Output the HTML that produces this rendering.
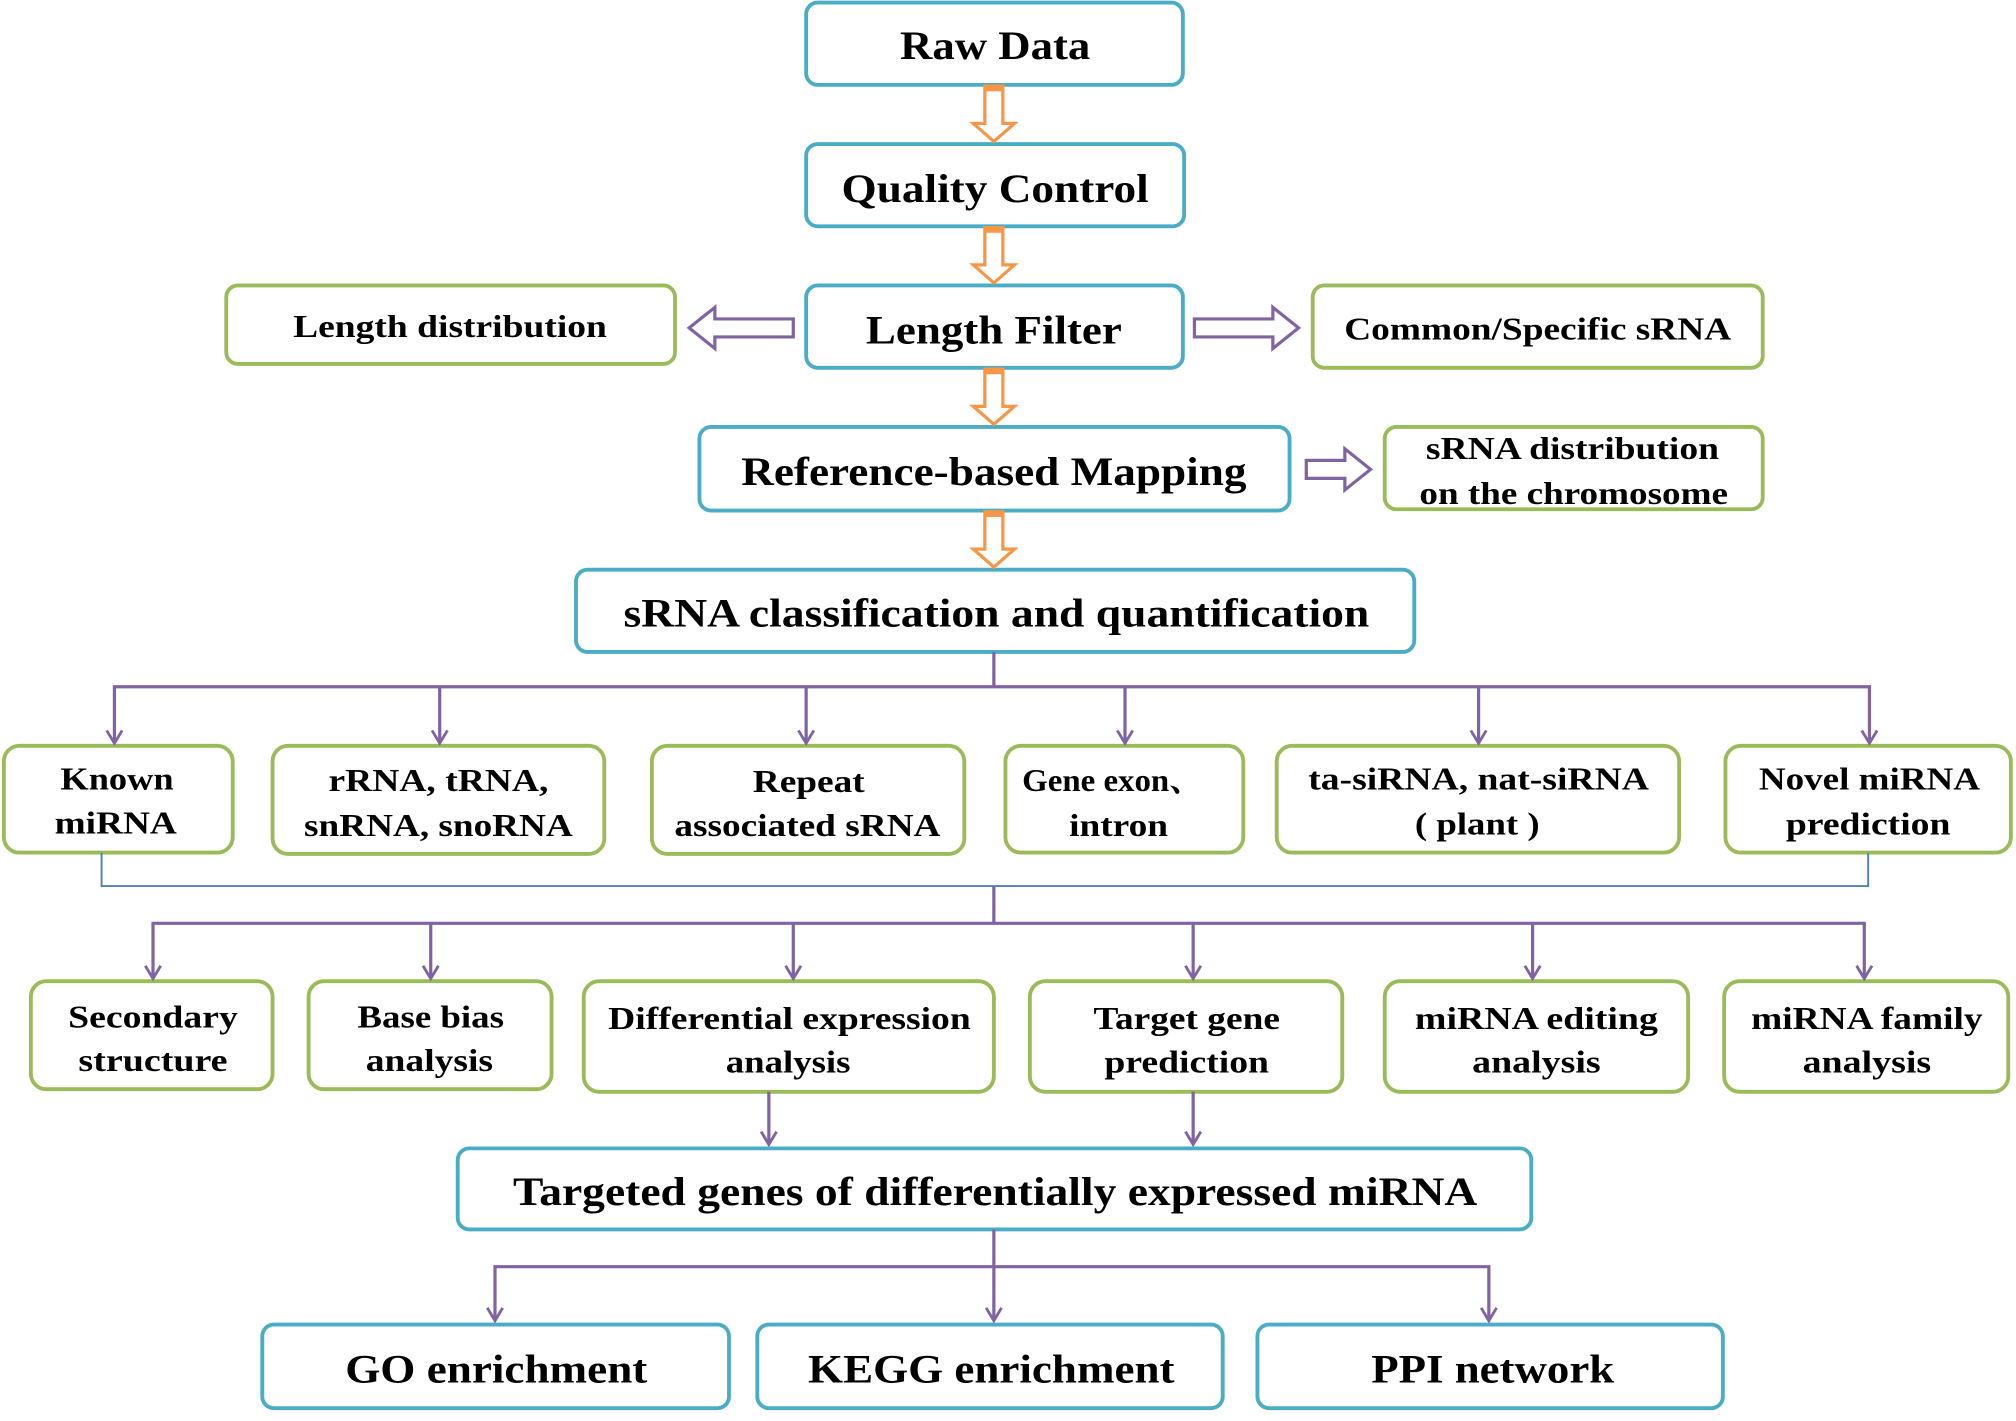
<!DOCTYPE html>
<html><head><meta charset="utf-8"><style>html,body{margin:0;padding:0;background:#fff}svg{display:block}</style></head>
<body>
<svg width="2016" height="1421" viewBox="0 0 1568 1105" preserveAspectRatio="none" xmlns="http://www.w3.org/2000/svg" font-family="'Liberation Serif', serif" font-weight="bold" fill="#000">
<defs>
<marker id="ah" viewBox="0 0 12 12" refX="6" refY="11" markerWidth="12" markerHeight="12" markerUnits="userSpaceOnUse" orient="auto-start-reverse">
</marker>
</defs>
<g fill="#fff" stroke-width="3">
<g stroke="#4bacc6">
<rect x="627" y="2" width="293" height="64" rx="9"/>
<rect x="627" y="112" width="294" height="64" rx="9"/>
<rect x="627" y="222" width="293" height="64" rx="9"/>
<rect x="544" y="332" width="459" height="65" rx="9"/>
<rect x="448" y="443" width="652" height="64" rx="9"/>
<rect x="356" y="893" width="835" height="63" rx="9"/>
<rect x="204" y="1030" width="363" height="65" rx="9"/>
<rect x="589" y="1030" width="362" height="65" rx="9"/>
<rect x="978" y="1030" width="362" height="65" rx="9"/>
</g>
<g stroke="#9bbb59">
<rect x="176" y="222" width="349" height="61" rx="9"/>
<rect x="1021" y="222" width="350" height="64" rx="9"/>
<rect x="1077" y="332" width="294" height="64" rx="9"/>
<rect x="3" y="580" width="178" height="83" rx="12"/>
<rect x="212" y="580" width="258" height="84" rx="12"/>
<rect x="507" y="580" width="243" height="84" rx="12"/>
<rect x="782" y="580" width="185" height="83" rx="12"/>
<rect x="993" y="580" width="313" height="83" rx="12"/>
<rect x="1342" y="580" width="222" height="83" rx="12"/>
<rect x="24" y="763" width="188" height="84" rx="12"/>
<rect x="240" y="763" width="189" height="84" rx="12"/>
<rect x="454" y="763" width="319" height="86" rx="12"/>
<rect x="801" y="763" width="243" height="86" rx="12"/>
<rect x="1077" y="763" width="236" height="86" rx="12"/>
<rect x="1341" y="763" width="221" height="86" rx="12"/>
</g>
</g>
<!-- orange hollow arrows -->
<g fill="#fff" stroke="#f79646" stroke-width="2.5">
<polygon points="766,67 780,67 780,96 789,96 773,110 757,96 766,96"/>
<polygon points="766,177 780,177 780,206 789,206 773,220 757,206 766,206"/>
<polygon points="766,287 780,287 780,316 789,316 773,330 757,316 766,316"/>
<polygon points="766,398 780,398 780,427 789,427 773,441 757,427 766,427"/>
</g>
<g fill="#f79646"><rect x="765" y="66" width="16" height="5"/><rect x="765" y="176" width="16" height="5"/><rect x="765" y="286" width="16" height="5"/><rect x="765" y="397" width="16" height="5"/></g>
<!-- purple hollow arrows -->
<g fill="#fff" stroke="#8064a2" stroke-width="2.5">
<polygon points="617,248 617,262 556,262 556,271 536,255 556,239 556,248"/>
<polygon points="929,248 929,262 990,262 990,271 1010,255 990,239 990,248"/>
<polygon points="1016,358 1016,372 1046,372 1046,381 1066,365 1046,349 1046,358"/>
</g>
<!-- connector lines -->
<g fill="none" stroke="#8064a2" stroke-width="2.5">
<path d="M773,507 V534 M89,578 V534 H1454 V578 M342,534 V578 M627,534 V578 M875,534 V578 M1150,534 V578"/>
<path d="M773,689 V718 M119,761 V718 H1450 V761 M335,718 V761 M617,718 V761 M928,718 V761 M1192,718 V761"/>
<path d="M598,849 V890 M928,849 V890"/>
<path d="M773,956 V985 M385,1027 V985 H1158 V1027 M773,985 V1027"/>
<g stroke-width="2.2">
<path d="M83,568 L89,578 L95,568 M336,568 L342,578 L348,568 M621,568 L627,578 L633,568 M869,568 L875,578 L881,568 M1144,568 L1150,578 L1156,568 M1448,568 L1454,578 L1460,568"/>
<path d="M113,751 L119,761 L125,751 M329,751 L335,761 L341,751 M611,751 L617,761 L623,751 M922,751 L928,761 L934,751 M1186,751 L1192,761 L1198,751 M1444,751 L1450,761 L1456,751"/>
<path d="M592,880 L598,890 L604,880 M922,880 L928,890 L934,880"/>
<path d="M379,1017 L385,1027 L391,1017 M767,1017 L773,1027 L779,1017 M1152,1017 L1158,1027 L1164,1017"/>
</g>
</g>
<path d="M79,663 V689 H1453 V663" fill="none" stroke="#4f81bd" stroke-width="1.5"/>
<!-- text -->
<g text-anchor="middle" lengthAdjust="spacingAndGlyphs">
<text x="774" y="46" font-size="31" textLength="148" lengthAdjust="spacingAndGlyphs">Raw Data</text>
<text x="774" y="157" font-size="31" textLength="239" lengthAdjust="spacingAndGlyphs">Quality Control</text>
<text x="773" y="267" font-size="31" textLength="199" lengthAdjust="spacingAndGlyphs">Length Filter</text>
<text x="350" y="262" font-size="25" textLength="244" lengthAdjust="spacingAndGlyphs">Length distribution</text>
<text x="1196" y="264" font-size="25" textLength="301" lengthAdjust="spacingAndGlyphs">Common/Specific sRNA</text>
<text x="773" y="377" font-size="31" textLength="393" lengthAdjust="spacingAndGlyphs">Reference-based Mapping</text>
<text x="1223" y="357" font-size="25" textLength="228" lengthAdjust="spacingAndGlyphs">sRNA distribution</text>
<text x="1224" y="392" font-size="25" textLength="240" lengthAdjust="spacingAndGlyphs">on the chromosome</text>
<text x="775" y="487" font-size="31" textLength="580" lengthAdjust="spacingAndGlyphs">sRNA classification and quantification</text>

<g font-size="25">
<text x="91" y="614" textLength="88" lengthAdjust="spacingAndGlyphs">Known</text>
<text x="90" y="648" textLength="95" lengthAdjust="spacingAndGlyphs">miRNA</text>
<text x="341" y="615" textLength="171" lengthAdjust="spacingAndGlyphs">rRNA, tRNA,</text>
<text x="341" y="650" textLength="209" lengthAdjust="spacingAndGlyphs">snRNA, snoRNA</text>
<text x="629" y="616" textLength="87" lengthAdjust="spacingAndGlyphs">Repeat</text>
<text x="628" y="650" textLength="207" lengthAdjust="spacingAndGlyphs">associated sRNA</text>
<text x="865" y="615" font-family="'Liberation Serif','Noto Serif CJK SC',serif" textLength="140" lengthAdjust="spacingAndGlyphs">Gene exon、</text>
<text x="870" y="650" textLength="77" lengthAdjust="spacingAndGlyphs">intron</text>
<text x="1150" y="614" textLength="265" lengthAdjust="spacingAndGlyphs">ta-siRNA, nat-siRNA</text>
<text x="1149" y="649" textLength="97" lengthAdjust="spacingAndGlyphs">( plant )</text>
<text x="1454" y="614" textLength="172" lengthAdjust="spacingAndGlyphs">Novel miRNA</text>
<text x="1453" y="649" textLength="128" lengthAdjust="spacingAndGlyphs">prediction</text>

<text x="119" y="799" textLength="132" lengthAdjust="spacingAndGlyphs">Secondary</text>
<text x="119" y="833" textLength="116" lengthAdjust="spacingAndGlyphs">structure</text>
<text x="335" y="799" textLength="114" lengthAdjust="spacingAndGlyphs">Base bias</text>
<text x="334" y="833" textLength="99" lengthAdjust="spacingAndGlyphs">analysis</text>
<text x="614" y="800" textLength="282" lengthAdjust="spacingAndGlyphs">Differential expression</text>
<text x="613" y="834" textLength="97" lengthAdjust="spacingAndGlyphs">analysis</text>
<text x="923" y="800" textLength="145" lengthAdjust="spacingAndGlyphs">Target gene</text>
<text x="923" y="834" textLength="128" lengthAdjust="spacingAndGlyphs">prediction</text>
<text x="1195" y="800" textLength="189" lengthAdjust="spacingAndGlyphs">miRNA editing</text>
<text x="1195" y="834" textLength="100" lengthAdjust="spacingAndGlyphs">analysis</text>
<text x="1452" y="800" textLength="180" lengthAdjust="spacingAndGlyphs">miRNA family</text>
<text x="1452" y="834" textLength="100" lengthAdjust="spacingAndGlyphs">analysis</text>
</g>
<text x="774" y="937" font-size="31" textLength="750" lengthAdjust="spacingAndGlyphs">Targeted genes of differentially expressed miRNA</text>
<text x="386" y="1075" font-size="31" textLength="235" lengthAdjust="spacingAndGlyphs">GO enrichment</text>
<text x="771" y="1075" font-size="31" textLength="285" lengthAdjust="spacingAndGlyphs">KEGG enrichment</text>
<text x="1161" y="1075" font-size="31" textLength="189" lengthAdjust="spacingAndGlyphs">PPI network</text>
</g>
</svg>
</body></html>
